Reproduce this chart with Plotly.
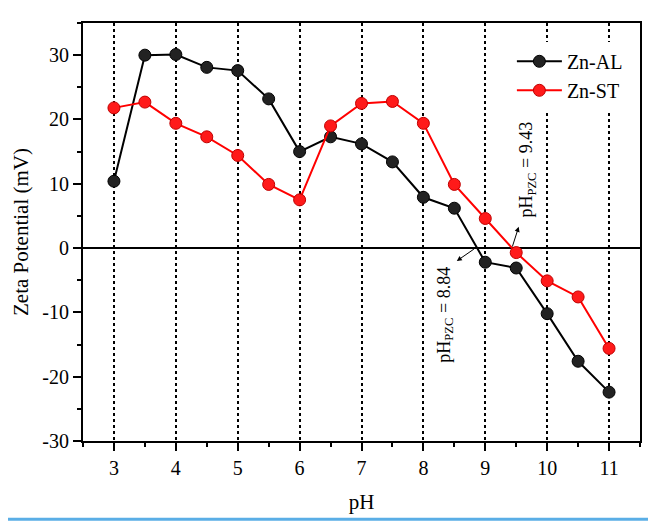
import plotly.graph_objects as go

ph = [3, 3.5, 4, 4.5, 5, 5.5, 6, 6.5, 7, 7.5, 8, 8.5, 9, 9.5, 10, 10.5, 11]
zn_al = [10.4, 30.0, 30.1, 28.1, 27.6, 23.2, 15.0, 17.3, 16.2, 13.4, 7.9, 6.2,
         -2.2, -3.1, -10.2, -17.6, -22.4]
zn_st = [21.8, 22.7, 19.4, 17.3, 14.4, 9.9, 7.5, 19.0, 22.5, 22.8, 19.4, 9.9,
         4.6, -0.7, -5.1, -7.6, -15.6]

x_ticks = [3, 4, 5, 6, 7, 8, 9, 10, 11]
y_ticks = [-30, -20, -10, 0, 10, 20, 30]
y_labels = ["-30", "-20", "-10", "0", "10", "20", "30"]

pzc_al = 8.84
pzc_st = 9.43

FONT = "Liberation Serif"

fig = go.Figure()
fig.add_trace(go.Scatter(
    x=ph, y=zn_al, name="Zn-AL", mode="lines+markers",
    line=dict(color="black", width=2),
    marker=dict(size=12, color="#222222", line=dict(color="black", width=1)),
))
fig.add_trace(go.Scatter(
    x=ph, y=zn_st, name="Zn-ST", mode="lines+markers",
    line=dict(color="#ff0000", width=2),
    marker=dict(size=12, color="#ff1a1a", line=dict(color="#c00000", width=1)),
))

# arrows from the zero crossings toward the labels
fig.add_annotation(x=8.54, y=-2.0, ax=pzc_al, ay=0, axref="x", ayref="y",
                   text="", showarrow=True, arrowhead=2, arrowsize=1,
                   arrowwidth=1, arrowcolor="black")
fig.add_annotation(x=9.54, y=3.3, ax=pzc_st, ay=0, axref="x", ayref="y",
                   text="", showarrow=True, arrowhead=2, arrowsize=1,
                   arrowwidth=1, arrowcolor="black")
fig.add_annotation(x=8.36, y=-10.4, text="pH<sub>PZC</sub> = 8.84",
                   textangle=-90, showarrow=False,
                   font=dict(family=FONT, size=18, color="black"))
fig.add_annotation(x=9.69, y=12.2, text="pH<sub>PZC</sub> = 9.43",
                   textangle=-90, showarrow=False,
                   font=dict(family=FONT, size=18, color="black"))

# thin blue border at the bottom of the picture
fig.add_shape(type="line", xref="paper", yref="paper", x0=-0.2, x1=1.1,
              y0=-0.187, y1=-0.187, line=dict(color="#5aaee6", width=3))

# page body has an 8px margin, so the figure is shrunk by that much
fig.update_layout(
    width=648, height=515,
    paper_bgcolor="white", plot_bgcolor="white",
    margin=dict(l=71, r=16, t=15, b=82),
    font=dict(family=FONT, size=20, color="black"),
    showlegend=True,
    legend=dict(x=0.77, y=0.955, xanchor="left", yanchor="top",
                bgcolor="white", font=dict(family=FONT, size=20),
                itemwidth=45, tracegroupgap=0),
    xaxis=dict(
        range=[2.5, 11.5], tickvals=x_ticks,
        showline=True, linecolor="black", linewidth=2, mirror=True,
        ticks="outside", ticklen=8, tickwidth=2, tickcolor="black",
        tickfont=dict(family=FONT, size=20),
        minor=dict(dtick=0.5, ticks="outside", ticklen=4, tickwidth=2,
                   tickcolor="black", showgrid=False),
        showgrid=True, gridcolor="black", gridwidth=1.5, griddash="dot",
        zeroline=False,
        title=dict(text="pH", font=dict(family=FONT, size=21), standoff=16),
    ),
    yaxis=dict(
        range=[-30, 35], tickvals=y_ticks, ticktext=y_labels,
        showline=True, linecolor="black", linewidth=2, mirror=True,
        ticks="outside", ticklen=8, tickwidth=2, tickcolor="black",
        tickfont=dict(family=FONT, size=20),
        minor=dict(dtick=5, ticks="outside", ticklen=4, tickwidth=2,
                   tickcolor="black", showgrid=False),
        showgrid=False,
        zeroline=True, zerolinecolor="black", zerolinewidth=2,
        title=dict(text="Zeta Potential (mV)", font=dict(family=FONT, size=21),
                   standoff=8),
    ),
)

fig.write_html("out.html")
